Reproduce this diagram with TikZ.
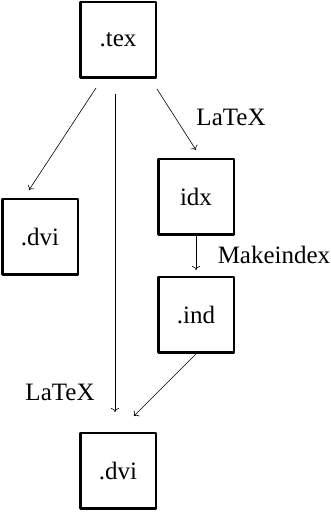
\documentclass[tikz,border=0pt]{standalone}
\usepackage{fontspec}
\setmainfont{Liberation Serif}
\usetikzlibrary{arrows.meta}

\begin{document}
\begin{tikzpicture}[x=1pt,y=1pt,line join=round,
    file/.style={draw,line width=2.5pt,minimum width=75.5pt,minimum height=75.5pt,
      inner sep=0pt,font=\fontsize{25}{27}\selectfont},
    step label/.style={font=\fontsize{25}{27}\selectfont},
    flow/.style={-{To[length=4pt,width=8pt]},line width=0.6pt}]
    \useasboundingbox (0,0) rectangle (331,512);

    % Files
    \node[file] (tex)  at (118,472) {.tex};
    \node[file] (dvil) at (40,275)  {.dvi};
    \node[file] (idx)  at (196,315) {idx};
    \node[file] (ind)  at (196,197) {.ind};
    \node[file] (dvib) at (118,41)  {.dvi};

    % Programs
    \node[step label] (latexa) at (231,395) {LaTeX};
    \node[step label] (mkidx)  at (274,257) {Makeindex};
    \node[step label] (latexb) at (60,120)  {LaTeX};

    % Runs
    \draw[flow] ([xshift=-22pt,yshift=-9pt]tex.south) -- ([xshift=-11pt,yshift=8pt]dvil.north);
    \draw[flow] ([xshift=-3pt,yshift=-15pt]tex.south) -- ([xshift=-3pt,yshift=20pt]dvib.north);
    \draw[flow] ([yshift=-10pt]tex.south east) -- ([yshift=8pt]idx.north);
    \draw[flow,shorten >=6pt] (idx.south) -- (ind.north);
    \draw[flow] (ind.south) -- ([xshift=16pt,yshift=16pt]dvib.north);
  \end{tikzpicture}
\end{document}
